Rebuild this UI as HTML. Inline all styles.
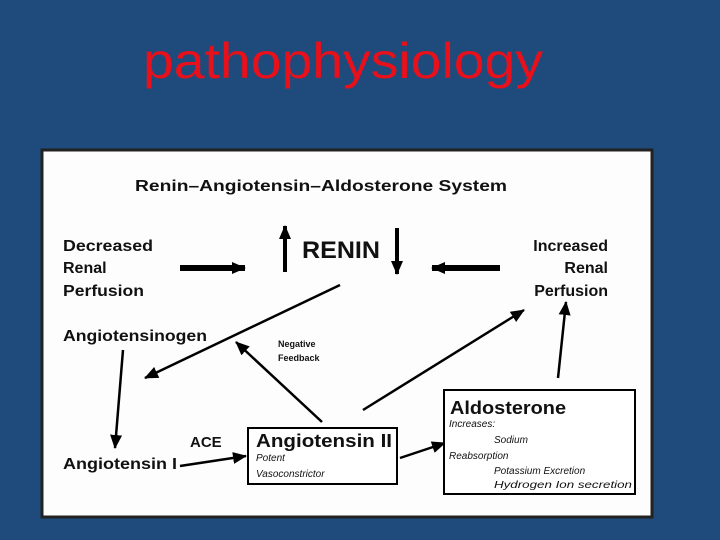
<!DOCTYPE html>
<html><head><style>
html,body{margin:0;padding:0;width:720px;height:540px;overflow:hidden;background:#1f4a7c;}
</style></head><body>
<svg width="720" height="540" xmlns="http://www.w3.org/2000/svg" style="position:absolute;left:0;top:0">
<defs>
<marker id="b" markerWidth="14" markerHeight="12" refX="13" refY="6" orient="auto" markerUnits="userSpaceOnUse"><path d="M0,0 L14,6 L0,12 z" fill="#000"/></marker>
</defs>
<text x="143" y="78" font-family="Liberation Sans, sans-serif" font-size="50" fill="#e8101a" textLength="400" lengthAdjust="spacingAndGlyphs">pathophysiology</text>
<rect x="42" y="150" width="610" height="367" fill="#fdfdfd" stroke="#222" stroke-width="3"/>
<g font-family="Liberation Sans, sans-serif" font-weight="bold" fill="#111">
<text x="135" y="191" font-size="16" textLength="372" lengthAdjust="spacingAndGlyphs">Renin–Angiotensin–Aldosterone System</text>
<text x="63" y="251" font-size="16" textLength="90" lengthAdjust="spacingAndGlyphs">Decreased</text>
<text x="63" y="273" font-size="16">Renal</text>
<text x="63" y="296" font-size="16" textLength="81" lengthAdjust="spacingAndGlyphs">Perfusion</text>
<text x="608" y="251" font-size="16" text-anchor="end">Increased</text>
<text x="608" y="273" font-size="16" text-anchor="end">Renal</text>
<text x="608" y="296" font-size="16" text-anchor="end">Perfusion</text>
<text x="302" y="258" font-size="24" textLength="78" lengthAdjust="spacingAndGlyphs">RENIN</text>
<text x="63" y="341" font-size="16" textLength="144" lengthAdjust="spacingAndGlyphs">Angiotensinogen</text>
<text x="63" y="469" font-size="16" textLength="114" lengthAdjust="spacingAndGlyphs">Angiotensin I</text>
<text x="190" y="447" font-size="15">ACE</text>
<text x="278" y="347" font-size="9">Negative</text>
<text x="278" y="361" font-size="9">Feedback</text>
</g>
<g stroke="#000" fill="none">
<line x1="180" y1="268" x2="245" y2="268" stroke-width="6" marker-end="url(#b)"/>
<line x1="500" y1="268" x2="432" y2="268" stroke-width="6" marker-end="url(#b)"/>
<line x1="285" y1="272" x2="285" y2="226" stroke-width="4" marker-end="url(#b)"/>
<line x1="397" y1="228" x2="397" y2="274" stroke-width="4" marker-end="url(#b)"/>
<line x1="340" y1="285" x2="145" y2="378" stroke-width="2.5" marker-end="url(#b)"/>
<line x1="123" y1="350" x2="115" y2="448" stroke-width="2.5" marker-end="url(#b)"/>
<line x1="180" y1="466" x2="246" y2="456" stroke-width="2.5" marker-end="url(#b)"/>
<line x1="400" y1="458" x2="445" y2="443" stroke-width="2.5" marker-end="url(#b)"/>
<line x1="322" y1="422" x2="236" y2="342" stroke-width="2.5" marker-end="url(#b)"/>
<line x1="363" y1="410" x2="524" y2="310" stroke-width="2.5" marker-end="url(#b)"/>
<line x1="558" y1="378" x2="566" y2="302" stroke-width="2.5" marker-end="url(#b)"/>
<rect x="248" y="428" width="149" height="56" stroke-width="2" fill="#fff"/>
<rect x="444" y="390" width="191" height="104" stroke-width="2" fill="#fff"/>
</g>
<g font-family="Liberation Sans, sans-serif" fill="#111">
<text x="256" y="447" font-size="18" font-weight="bold" textLength="136" lengthAdjust="spacingAndGlyphs">Angiotensin II</text>
<text x="256" y="461" font-size="10" font-style="italic">Potent</text>
<text x="256" y="477" font-size="10" font-style="italic">Vasoconstrictor</text>
<text x="450" y="414" font-size="18" font-weight="bold" textLength="116" lengthAdjust="spacingAndGlyphs">Aldosterone</text>
<text x="449" y="427" font-size="10" font-style="italic">Increases:</text>
<text x="494" y="443" font-size="10" font-style="italic">Sodium</text>
<text x="449" y="459" font-size="10" font-style="italic">Reabsorption</text>
<text x="494" y="474" font-size="10" font-style="italic">Potassium Excretion</text>
<text x="494" y="488" font-size="10" font-style="italic" textLength="138" lengthAdjust="spacingAndGlyphs">Hydrogen Ion secretion</text>
</g>
</svg>
</body></html>
